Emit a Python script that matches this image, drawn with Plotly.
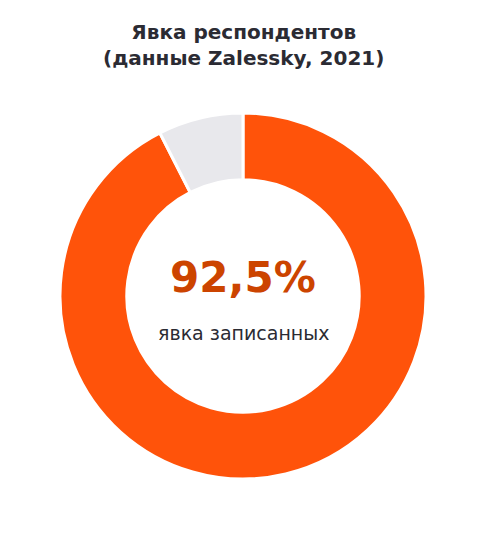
import plotly.graph_objects as go

labels = ["Явка", "Не явились"]
values = [92.5, 7.5]
colors = ["#FF530A", "#E8E8EC"]
center_value = "92,5%"
center_label = "явка записанных"

fig = go.Figure(go.Pie(
    labels=labels, values=values, hole=0.635, sort=False,
    direction="clockwise", rotation=0,
    marker=dict(colors=colors, line=dict(color="white", width=3)),
    textinfo="none", hoverinfo="label+percent", showlegend=False,
))
fig.update_layout(
    width=486, height=541, paper_bgcolor="white",
    margin=dict(l=52, r=68, t=105, b=70),
    annotations=[
        dict(text="<b>Явка респондентов<br>(данные Zalessky, 2021)</b>",
             x=0.5, y=1.26, xref="paper", yref="paper", yanchor="top",
             showarrow=False, font=dict(family="DejaVu Sans", size=20, color="#2b2b33")),
        dict(text="<b>"+center_value+"</b>", x=0.5, y=0.55, xref="paper", yref="paper",
             showarrow=False, font=dict(family="DejaVu Sans", size=42, color="#CC4400")),
        dict(text=center_label, x=0.5, y=0.40, xref="paper", yref="paper",
             showarrow=False, font=dict(family="DejaVu Sans", size=19, color="#2b2b33")),
    ],
)
fig.write_html("out.html")
